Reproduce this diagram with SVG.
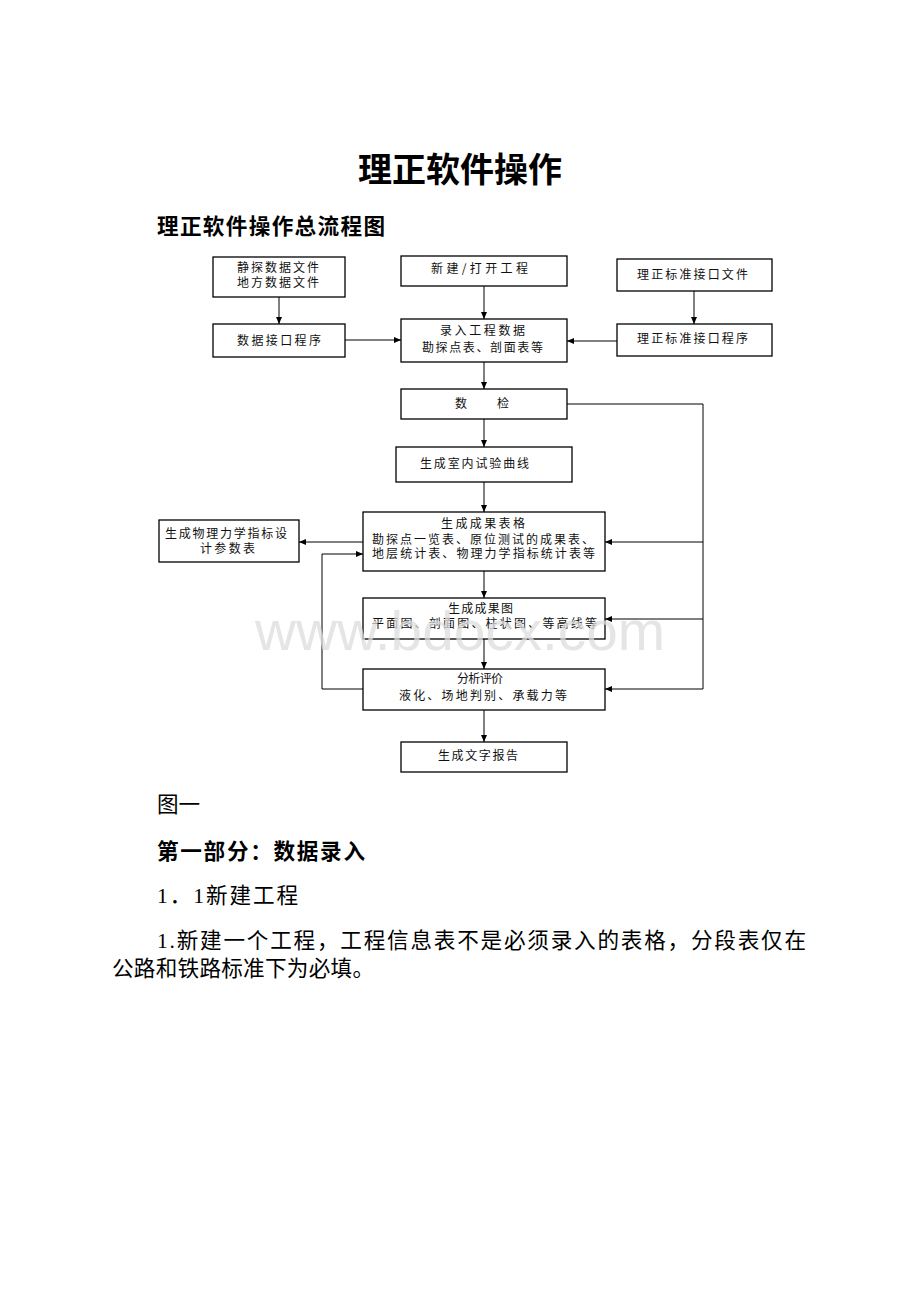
<svg xmlns="http://www.w3.org/2000/svg" width="920" height="1302" viewBox="0 0 920 1302">
<defs>
<marker id="ah" markerUnits="userSpaceOnUse" markerWidth="7" markerHeight="7" refX="7" refY="3.5" orient="auto">
<path d="M0,0.5 L7,3.5 L0,6.5 z" fill="#000"/>
</marker>
<style>
.bx{fill:#fff;stroke:#000;stroke-width:1.3}
.t{font-family:"Noto Sans CJK SC","Noto Sans",sans-serif;font-size:12px;fill:#111}
.c{fill:none;stroke:#000;stroke-width:1}
.a{marker-end:url(#ah)}
.h{font-family:"Noto Sans CJK SC",sans-serif;font-weight:bold;fill:#000}
.b{font-family:"Liberation Serif","Noto Sans CJK SC",serif;font-size:21.6px;fill:#000}
.wm{font-family:"Liberation Sans",Arial,sans-serif;font-size:56px;fill:#dcdcdc;fill-opacity:0.75}
</style>
</defs>
<rect width="920" height="1302" fill="#fff"/>
<text class="h" x="460" y="182" font-size="34" text-anchor="middle">理正软件操作</text>
<text class="h" x="157" y="234" font-size="21.6" textLength="228" lengthAdjust="spacing">理正软件操作总流程图</text>

<g id="connectors">
<line class="c a" x1="279" y1="297" x2="279" y2="324"/>
<line class="c a" x1="484" y1="286" x2="484" y2="319"/>
<line class="c a" x1="694" y1="291" x2="694" y2="324"/>
<line class="c a" x1="345" y1="340" x2="401" y2="340"/>
<line class="c a" x1="617" y1="341" x2="567" y2="341"/>
<line class="c a" x1="484" y1="362" x2="484" y2="389"/>
<line class="c a" x1="484" y1="419" x2="484" y2="447"/>
<line class="c a" x1="484" y1="482" x2="484" y2="512"/>
<line class="c a" x1="484" y1="571" x2="484" y2="598"/>
<line class="c a" x1="484" y1="639" x2="484" y2="669"/>
<line class="c a" x1="484" y1="710" x2="484" y2="742"/>
<line class="c a" x1="363" y1="542" x2="299" y2="542"/>
<polyline class="c a" points="363,689 322,689 322,554 363,554"/>
<polyline class="c a" points="567,404 703,404 703,689 605,689"/>
<line class="c a" x1="703" y1="542" x2="605" y2="542"/>
<line class="c a" x1="703" y1="619" x2="605" y2="619"/>
</g>

<g id="n_jingtan"><rect class="bx" x="213" y="257" width="132" height="40"/>
<text class="t" x="237" y="271.5" textLength="82" lengthAdjust="spacing">静探数据文件</text>
<text class="t" x="237" y="286.5" textLength="82" lengthAdjust="spacing">地方数据文件</text></g>
<g id="n_xinjian"><rect class="bx" x="401" y="256" width="166" height="30"/>
<text class="t" x="431" y="272.5" textLength="97" lengthAdjust="spacing">新建/打开工程</text></g>
<g id="n_lzfile"><rect class="bx" x="617" y="259" width="155" height="32"/>
<text class="t" x="637" y="278.5" textLength="111" lengthAdjust="spacing">理正标准接口文件</text></g>
<g id="n_jiekou"><rect class="bx" x="213" y="324" width="132" height="33"/>
<text class="t" x="237" y="344.5" textLength="84" lengthAdjust="spacing">数据接口程序</text></g>
<g id="n_luru"><rect class="bx" x="401" y="319" width="166" height="43"/>
<text class="t" x="440" y="334.5" textLength="85" lengthAdjust="spacing">录入工程数据</text>
<text class="t" x="422" y="351.5" textLength="121" lengthAdjust="spacing">勘探点表、剖面表等</text></g>
<g id="n_lzprog"><rect class="bx" x="617" y="324" width="155" height="32"/>
<text class="t" x="637" y="342.5" textLength="111" lengthAdjust="spacing">理正标准接口程序</text></g>
<g id="n_shujian"><rect class="bx" x="401" y="389" width="166" height="30"/>
<text class="t" x="455" y="407.5">数<tspan x="497">检</tspan></text></g>
<g id="n_shinei"><rect class="bx" x="396" y="447" width="176" height="35"/>
<text class="t" x="420" y="467.5" textLength="109" lengthAdjust="spacing">生成室内试验曲线</text></g>
<g id="n_wuli"><rect class="bx" x="159" y="520" width="140" height="42"/>
<text class="t" x="165" y="537.5" textLength="122" lengthAdjust="spacing">生成物理力学指标设</text>
<text class="t" x="200" y="552.5" textLength="55" lengthAdjust="spacing">计参数表</text></g>
<g id="n_biaoge"><rect class="bx" x="363" y="512" width="242" height="59"/>
<text class="t" x="441" y="527.5" textLength="84" lengthAdjust="spacing">生成成果表格</text>
<text class="t" x="372" y="543.5" textLength="222" lengthAdjust="spacing">勘探点一览表、原位测试的成果表、</text>
<text class="t" x="372" y="557.5" textLength="223" lengthAdjust="spacing">地层统计表、物理力学指标统计表等</text></g>
<g id="n_chengguotu"><rect class="bx" x="363" y="598" width="242" height="41"/>
<text class="t" x="448" y="612.5" textLength="65" lengthAdjust="spacing">生成成果图</text>
<text class="t" x="372" y="627.5" textLength="225" lengthAdjust="spacing">平面图、剖面图、柱状图、等高线等</text></g>
<g id="n_fenxi"><rect class="bx" x="363" y="669" width="242" height="41"/>
<text class="t" x="457" y="682.5" textLength="46" lengthAdjust="spacing">分析评价</text>
<text class="t" x="399" y="699.5" textLength="168" lengthAdjust="spacing">液化、场地判别、承载力等</text></g>
<g id="n_baogao"><rect class="bx" x="401" y="742" width="166" height="30"/>
<text class="t" x="438" y="759.5" textLength="80" lengthAdjust="spacing">生成文字报告</text></g>

<text class="wm" x="255" y="650" textLength="410" lengthAdjust="spacingAndGlyphs">www.bdocx.com</text>

<text class="b" x="157" y="812">图一</text>
<text class="h" x="157" y="859" font-size="21.6" textLength="208" lengthAdjust="spacing">第一部分：数据录入</text>
<text class="b" x="157" y="903" textLength="141" lengthAdjust="spacing">1．1新建工程</text>
<text class="b" x="157" y="948" textLength="649" lengthAdjust="spacing">1.新建一个工程，工程信息表不是必须录入的表格，分段表仅在</text>
<text class="b" x="112" y="976" textLength="262" lengthAdjust="spacing">公路和铁路标准下为必填。</text>
</svg>
